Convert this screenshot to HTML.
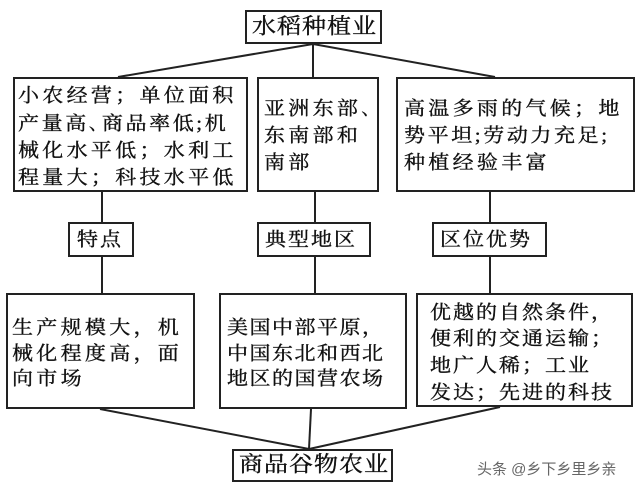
<!DOCTYPE html>
<html><head><meta charset="utf-8"><style>
body{margin:0;width:640px;height:492px;background:#fff;position:relative;overflow:hidden;font-family:"Liberation Serif","Noto Serif CJK SC",serif;color:#111}
.b{position:absolute;border:2px solid #222;box-sizing:border-box}
.t{position:absolute;font-size:21px;letter-spacing:3.3px;white-space:nowrap;line-height:22px;transform:scaleY(0.9);transform-origin:left center;-webkit-text-stroke:0.4px #111}
svg{position:absolute;left:0;top:0}
</style></head><body>
<svg width="640" height="492"><g stroke="#222" stroke-width="2" fill="none">
<line x1="313" y1="44" x2="118" y2="77"/><line x1="313" y1="44" x2="313" y2="77"/><line x1="313" y1="44" x2="495" y2="77"/>
<line x1="102" y1="192" x2="102" y2="222"/><line x1="315" y1="192" x2="315" y2="222"/><line x1="490" y1="192" x2="490" y2="222"/>
<line x1="102" y1="257" x2="102" y2="293"/><line x1="315" y1="257" x2="315" y2="293"/><line x1="490" y1="257" x2="490" y2="293"/>
<line x1="100" y1="409" x2="309" y2="449"/><line x1="311" y1="409" x2="309" y2="449"/><line x1="500" y1="407" x2="309" y2="449"/>
</g></svg>
<div class="b" style="left:245px;top:10px;width:137px;height:34px"></div>
<div class="t" style="left:252px;top:16px;font-size:24px;letter-spacing:1px">水稻种植业</div>
<div class="b" style="left:13px;top:77px;width:235px;height:115px"></div>
<div class="t" style="left:18px;top:84px">小农经营；单位面积</div>
<div class="t" style="left:18px;top:112px;letter-spacing:2.6px">产量高､商品率低;机</div>
<div class="t" style="left:18px;top:139px">械化水平低；水利工</div>
<div class="t" style="left:18px;top:166px">程量大；科技水平低</div>
<div class="b" style="left:257px;top:77px;width:122px;height:115px"></div>
<div class="t" style="left:264px;top:97px">亚洲东部､</div>
<div class="t" style="left:264px;top:124px">东南部和</div>
<div class="t" style="left:264px;top:151px">南部</div>
<div class="b" style="left:396px;top:77px;width:239px;height:115px"></div>
<div class="t" style="left:404px;top:97px">高温多雨的气候；地</div>
<div class="t" style="left:404px;top:124px;letter-spacing:2.6px">势平坦;劳动力充足;</div>
<div class="t" style="left:404px;top:151px">种植经验丰富</div>
<div class="b" style="left:68px;top:222px;width:66px;height:35px"></div>
<div class="t" style="left:77px;top:228px;letter-spacing:2px">特点</div>
<div class="b" style="left:257px;top:222px;width:114px;height:35px"></div>
<div class="t" style="left:265px;top:228px;letter-spacing:2px">典型地区</div>
<div class="b" style="left:432px;top:222px;width:115px;height:35px"></div>
<div class="t" style="left:440px;top:228px;letter-spacing:2px">区位优势</div>
<div class="b" style="left:6px;top:293px;width:189px;height:116px"></div>
<div class="t" style="left:12px;top:316px">生产规模大，机</div>
<div class="t" style="left:12px;top:342px">械化程度高，面</div>
<div class="t" style="left:12px;top:367px">向市场</div>
<div class="b" style="left:219px;top:293px;width:188px;height:116px"></div>
<div class="t" style="left:227px;top:316px;letter-spacing:1.5px">美国中部平原，</div>
<div class="t" style="left:227px;top:342px;letter-spacing:1.5px">中国东北和西北</div>
<div class="t" style="left:227px;top:367px;letter-spacing:1.5px">地区的国营农场</div>
<div class="b" style="left:416px;top:293px;width:217px;height:114px"></div>
<div class="t" style="left:430px;top:301px;letter-spacing:2px">优越的自然条件，</div>
<div class="t" style="left:430px;top:327px;letter-spacing:2px">便利的交通运输；</div>
<div class="t" style="left:430px;top:354px;letter-spacing:2px">地广人稀；工业</div>
<div class="t" style="left:430px;top:381px;letter-spacing:2px">发达；先进的科技</div>
<div class="b" style="left:232px;top:449px;width:161px;height:33px"></div>
<div class="t" style="left:239px;top:454px;font-size:24px;letter-spacing:1px">商品谷物农业</div>
<div class="t" style="left:477px;top:461px;font-size:15px;letter-spacing:0;color:#666;font-family:'Liberation Sans','Noto Sans CJK SC',sans-serif;transform:none;line-height:18px;-webkit-text-stroke:0">头条 @乡下乡里乡亲</div>
</body></html>
